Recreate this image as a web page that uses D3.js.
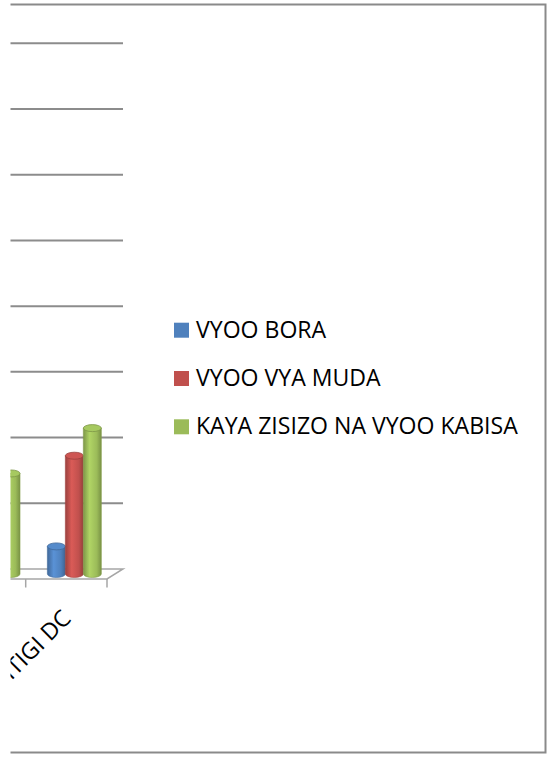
<!DOCTYPE html>
<html>
<head>
<meta charset="utf-8">
<script src="https://cdn.jsdelivr.net/npm/d3@7"></script>
<style>
  html, body { margin: 0; padding: 0; background: #fff; }
  svg { display: block; }
</style>
</head>
<body>
<svg width="547" height="758"></svg>
<script>
// data (the chart is cut at the left edge)
const categories = ["MANYONI DC", "ITIGI DC"];
const seriesNames = ["VYOO BORA", "VYOO VYA MUDA", "KAYA ZISIZO NA VYOO KABISA"];
const vyooBora = [6.5, 4.2];
const vyooVyaMuda = [12.5, 18.0];
const kayaZisizo = [15.3, 22.2];
const yTicks = [0, 10, 20, 30, 40, 50, 60, 70, 80];
const colors = ["#4F81BD", "#C0504D", "#9BBB59"];

const values = [vyooBora, vyooVyaMuda, kayaZisizo];

const svg = d3.select("svg");
const fontFamily = "'Open Sans', sans-serif";

// everything left of x = 10.5 is cut off in the reference
svg.append("clipPath").attr("id", "cut")
  .append("rect").attr("x", 10.5).attr("y", 0).attr("width", 600).attr("height", 800);

const defs = svg.append("defs");
colors.forEach((c, i) => {
  const base = d3.color(c);
  const grad = defs.append("linearGradient").attr("id", "cyl" + i)
    .attr("x1", "0%").attr("x2", "100%").attr("y1", "0%").attr("y2", "0%");
  grad.append("stop").attr("offset", "0%").attr("stop-color", base.darker(0.6));
  grad.append("stop").attr("offset", "35%").attr("stop-color", base.brighter(0.35));
  grad.append("stop").attr("offset", "75%").attr("stop-color", base);
  grad.append("stop").attr("offset", "100%").attr("stop-color", base.darker(0.7));
});

const root = svg.append("g").attr("clip-path", "url(#cut)");

// outer chart frame
root.append("rect")
  .attr("x", -10).attr("y", 4.5)
  .attr("width", 555.5).attr("height", 748)
  .attr("fill", "none")
  .attr("stroke", "#8a8a8a")
  .attr("stroke-width", 2);

// 3d depth of the floor
const depthX = 16, depthY = -10;

const y = d3.scaleLinear().domain([0, 80]).range([569, 43.3]);
const x = d3.scaleBand().domain(categories).range([-55.6, 107]);
const xs = d3.scaleBand().domain(seriesNames).range([0, x.bandwidth()])
  .paddingInner(0).paddingOuter(0.76);

const frontY = y(0) - depthY;
const backRight = x.range()[1] + depthX;

// gridlines on back wall
root.append("g").selectAll("line")
  .data(yTicks.slice(1))
  .enter()
  .append("line")
  .attr("x1", -60).attr("x2", backRight)
  .attr("y1", d => y(d)).attr("y2", d => y(d))
  .attr("stroke", "#8c8c8c")
  .attr("stroke-width", 2);

// floor
const floorPts = [
  [-80, frontY], [x.range()[1], frontY],
  [backRight, y(0)], [-80 + depthX, y(0)]
];
root.append("path")
  .attr("d", d3.line()(floorPts))
  .attr("fill", "none")
  .attr("stroke", "#a6a6a6")
  .attr("stroke-width", 1.5);

// category tick marks
const tickXs = categories.map(c => x(c)).concat([x.range()[1]]);
root.append("g").selectAll("line")
  .data(tickXs)
  .enter()
  .append("line")
  .attr("x1", d => d).attr("x2", d => d)
  .attr("y1", frontY).attr("y2", frontY + 8.5)
  .attr("stroke", "#a6a6a6")
  .attr("stroke-width", 1.5);

// cylinders
const ry = 3.5;
const bars = [];
categories.forEach((c, ci) => {
  seriesNames.forEach((s, si) => {
    bars.push({cat: c, s: si, v: values[si][ci]});
  });
});

const barG = root.append("g");
bars.forEach(b => {
  const w = xs.bandwidth();
  const x0 = x(b.cat) + xs(seriesNames[b.s]) + depthX / 2;
  const yBase = y(0) - depthY / 2;
  const yTop = y(b.v) - depthY / 2;
  const base = d3.color(colors[b.s]);
  const g = barG.append("g");
  g.append("path")
    .attr("d", `M${x0},${yTop} L${x0},${yBase} A${w / 2},${ry} 0 0 0 ${x0 + w},${yBase} L${x0 + w},${yTop} Z`)
    .attr("fill", `url(#cyl${b.s})`)
    .attr("stroke", base.darker(0.5))
    .attr("stroke-width", 0.6);
  g.append("ellipse")
    .attr("cx", x0 + w / 2).attr("cy", yTop)
    .attr("rx", w / 2).attr("ry", ry)
    .attr("fill", base.brighter(0.2))
    .attr("stroke", base.darker(0.6))
    .attr("stroke-width", 0.8);
});

// legend
const legend = svg.append("g").attr("transform", "translate(174,322.7)");
const item = legend.selectAll("g")
  .data(seriesNames)
  .enter()
  .append("g")
  .attr("transform", (d, i) => `translate(0,${i * 48.3})`);
item.append("rect")
  .attr("width", 15).attr("height", 15)
  .attr("fill", (d, i) => colors[i]);
const legendText = item.append("text")
  .attr("x", 22).attr("y", 15)
  .attr("font-family", fontFamily)
  .attr("font-size", 20)
  .attr("fill", "#000")
  .text(d => d);

// fit the longest legend entry to the width seen in the reference (~322px)
const longest = legendText.filter((d, i) => i === 2).node().getComputedTextLength();
const labelSize = 20 * 322 / longest;
legendText.attr("font-size", labelSize);

// category labels, rotated
root.append("g").selectAll("text")
  .data(categories)
  .enter()
  .append("text")
  .attr("transform", d => `translate(${x(d) + x.bandwidth() / 2 + 6},${frontY + 41}) rotate(-45)`)
  .attr("text-anchor", "end")
  .attr("font-family", fontFamily)
  .attr("font-size", labelSize)
  .attr("fill", "#000")
  .text(d => d);
</script>
</body>
</html>
